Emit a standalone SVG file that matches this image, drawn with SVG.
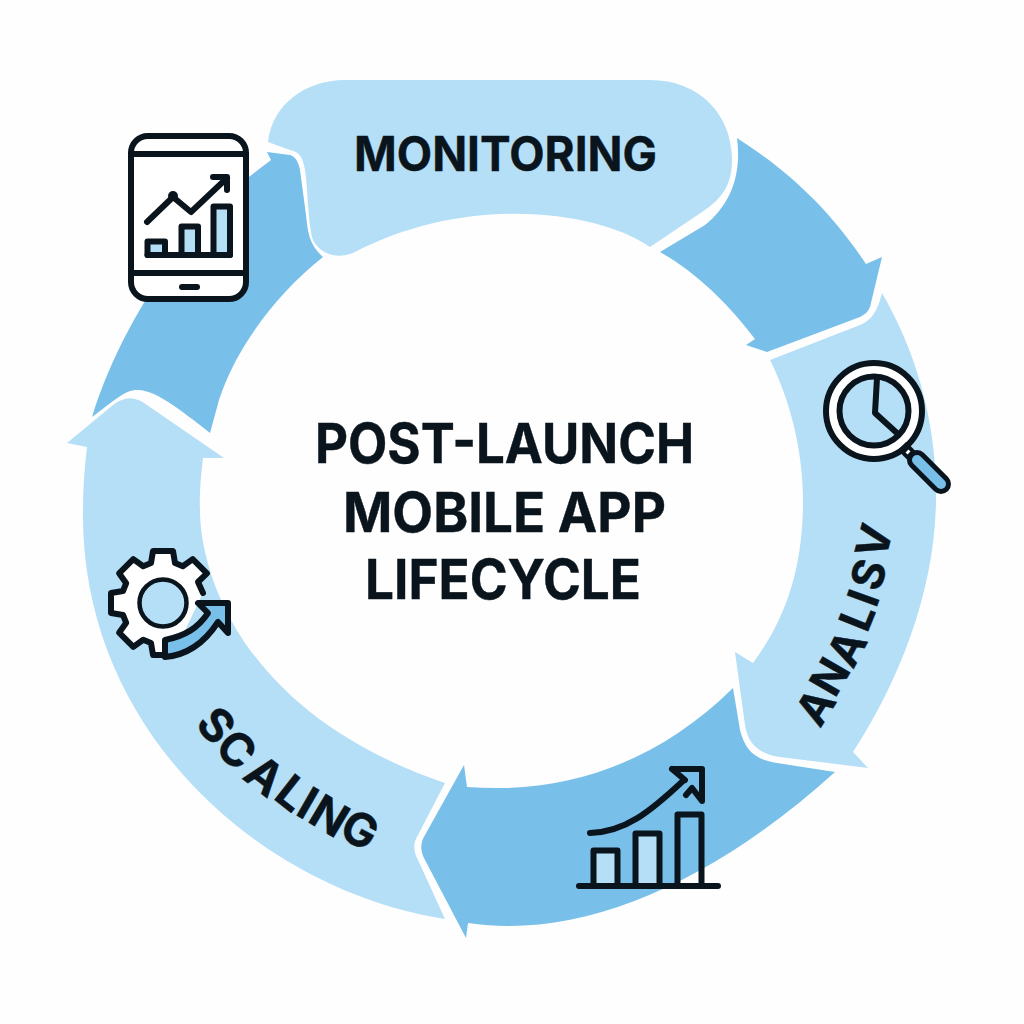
<svg xmlns="http://www.w3.org/2000/svg" width="1024" height="1024" viewBox="0 0 1024 1024">
<style>
.l{fill:#B5DFF7}.d{fill:#78BFE9}
.t{font-family:Inter,"Liberation Sans",sans-serif;font-weight:700;fill:#0A141C;stroke:#0A141C;stroke-width:.4}
.i{fill:none;stroke:#0A141C;stroke-width:6;stroke-linecap:round;stroke-linejoin:round}
.w{fill:#fff}.lf{fill:#B5DFF7}.df{fill:#78BFE9}
</style>
<rect width="1024" height="1024" fill="#FEFEFE"/>
<g id="connectors">
<path class="d" d="M737 138C790 172 830 210 866 264L882 257L870 307C868 312 864 315 860 317L767 352L746 345L755 339C725 300 695 272 660 252L705 225C730 205 742 175 737 138Z"/>
<path class="d" d="M733 688C660 760 570 795 467 787L464 765L425 835C420 843 420 851 425 860L466 938L468 923C580 940 710 885 835 772L777 763C755 760 745 750 740 730Z"/>
<path class="d" d="M92 417C115 400 125 390 137 390C150 390 165 397 210 433L219 400C235 350 275 295 323 257C310 245 308 235 306 215L300 170C298 160 295 157 290 155L267 152L271 160L245 180C200 215 125 310 92 417Z"/>
</g>
<g id="monitoring">
<path class="l" d="M268 142C272 105 305 80 345 80L650 80C700 80 732 115 732 160C732 185 722 198 705 210L650 247C600 212 470 192 353 253C340 258 322 257 313 240C308 225 308 190 305 170C303 158 300 152 290 150Z"/>
<text class="t" x="354" y="171" font-size="48" textLength="303" lengthAdjust="spacingAndGlyphs">MONITORING</text>
<g id="phone-icon">
<rect x="131" y="136" width="115" height="163" rx="17" fill="#fff" stroke="#0A141C" stroke-width="6"/>
<path class="i" d="M131 154H246M131 273H246M182 287H197"/>
<path class="i lf" d="M147.500 255V241.500H165V255M181.500 255V226.500H198V255M213.500 255V206.500H230V255"/>
<path class="i" d="M147.500 255H230M147 222L173 197L191 212L227 178M213 177H227V190"/>
<circle cx="173" cy="196" r="5" fill="#0A141C"/>
</g>
</g>
<g id="analisv">
<path class="l" d="M882 293C915 350 937 420 936 500C935 590 900 680 853 752L868 768L780 757C760 754 748 745 745 725L735 652L753 663C785 620 803 570 803 500C803 450 790 400 770 360L860 325C872 320 878 310 882 293Z"/>
<text class="t" font-size="44" x="820 835 853 867 876 879 885" y="729 699 670 634 609 593 561" rotate="-58 -60 -62 -68 -70 -72 -75">ANALISV</text>
<g id="magnifier-icon">
<circle cx="874" cy="411" r="48" fill="#fff" stroke="#0A141C" stroke-width="6"/>
<circle cx="874" cy="411" r="34.500" fill="#B5DFF7" stroke="#0A141C" stroke-width="6"/>
<path class="i" d="M877 378L875 413L898 434"/>
<path d="M902 446L913 457" stroke="#0A141C" stroke-width="12" fill="none"/>
<path d="M907 451L909 453" stroke="#fff" stroke-width="4" fill="none"/>
<path d="M917 460L941 484" stroke="#0A141C" stroke-width="20" stroke-linecap="round" fill="none"/>
<path d="M917 460L941 484" stroke="#78BFE9" stroke-width="10" stroke-linecap="round" fill="none"/>
</g>
</g>
<g id="growth-icon">
<path class="i lf" d="M593.500 886V850.500H617.500V886M635.500 886V833.500H659.500V886"/>
<path class="i" d="M677.500 886V814.500H701.500V886M579 886H718M590 833C625 832 650 812 684 780M672 769H702V801L692 788L686 795M672 769L685 780"/>
</g>
<g id="scaling">
<path class="l" d="M445 783L418 835C413 843 413 851 418 860L445 919C260 890 80 730 83 510Q83 480 87 447L67 443L113 405C125 396 135 396 147 405L224 458L203 458Q199 490 200 510C200 560 230 710 445 783Z"/>
<text class="t" font-size="46" x="194 213 241 272 294 306 337" y="725 749 778 798 814 821 836" rotate="48 45 38 38 30 31 28">SCALING</text>
<g id="gear-icon">
<path class="i w" d="M203 593L198 582L206.900 573.300L192.700 559.100L182.800 566.200L175 563L173 551H153L151 563L143.200 566.200L133.300 559.100L119.100 573.300L126.200 583.200L123 591L111 593V613L123 615L126.200 622.800L119.100 632.700L133.300 646.900L143.200 639.800L151 643L153 655H173"/>
<circle cx="163" cy="603" r="23.500" fill="#B5DFF7" stroke="#0A141C" stroke-width="4.500"/>
<path class="i df" d="M165 640C185 636 198 628 208 613L198 603H228V633L218 622C205 642 188 655 165 657Z"/>
</g>
</g>
<g id="title">
<text class="t" font-size="55" x="315" y="463" textLength="379" lengthAdjust="spacingAndGlyphs">POST-LAUNCH</text>
<text class="t" font-size="55" x="343" y="532" textLength="323" lengthAdjust="spacingAndGlyphs">MOBILE APP</text>
<text class="t" font-size="55" x="365" y="599" textLength="276" lengthAdjust="spacingAndGlyphs">LIFECYCLE</text>
</g>
</svg>
